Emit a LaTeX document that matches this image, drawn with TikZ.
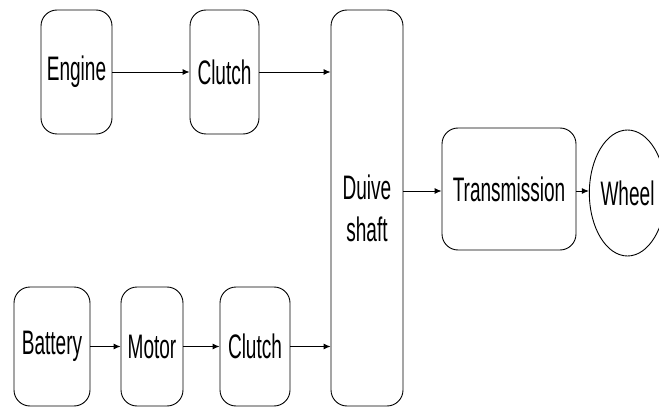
\documentclass[tikz,border=0pt]{standalone}
\usepackage{fontspec}
\setmainfont{Liberation Sans}[FakeStretch=0.56]
\usetikzlibrary{shapes.geometric,arrows.meta}
\begin{document}
\begin{tikzpicture}[x=1pt,y=-1pt,
  blk/.style={draw,line width=0.9pt,rounded corners=16pt,inner sep=0pt,
    font=\fontsize{34}{42}\selectfont,align=center},
  arr/.style={line width=0.9pt,-{Latex[length=7pt,width=6pt]}}]
\useasboundingbox[fill=white] (0,0) rectangle (659,409);
\node[blk,minimum width=71pt,minimum height=124pt] (engine) at (76.5,72) {Engine};
\node[blk,minimum width=69pt,minimum height=124pt] (clutch1) at (224.5,72) {Clutch};
\node[blk,minimum width=72pt,minimum height=396pt] (shaft) at (367,208) {Duive\\shaft};
\node[blk,minimum width=134pt,minimum height=122pt] (trans) at (509,189) {Transmission};
\node[draw,line width=0.9pt,ellipse,inner sep=0pt,minimum width=61pt,minimum height=126pt,
  font=\fontsize{34}{42}\selectfont] (wheel) at (627.5,193) {Wheel};
\node[blk,minimum width=76pt,minimum height=119pt] (battery) at (52,346.5) {Battery};
\node[blk,minimum width=62pt,minimum height=119pt] (motor) at (152,346.5) {Motor};
\node[blk,minimum width=70pt,minimum height=119pt] (clutch2) at (255,346.5) {Clutch};
\draw[arr] (engine.east) -- (clutch1.west);
\draw[arr] (clutch1.east) -- (clutch1.east -| shaft.west);
\draw[arr] (battery.east) -- (motor.west);
\draw[arr] (motor.east) -- (clutch2.west);
\draw[arr] (clutch2.east) -- (clutch2.east -| shaft.west);
\draw[arr] (shaft.east |- 0,191) -- (trans.west |- 0,191);
\draw[arr] (trans.east |- 0,191) -- (wheel.west |- 0,191);
\end{tikzpicture}
\end{document}
